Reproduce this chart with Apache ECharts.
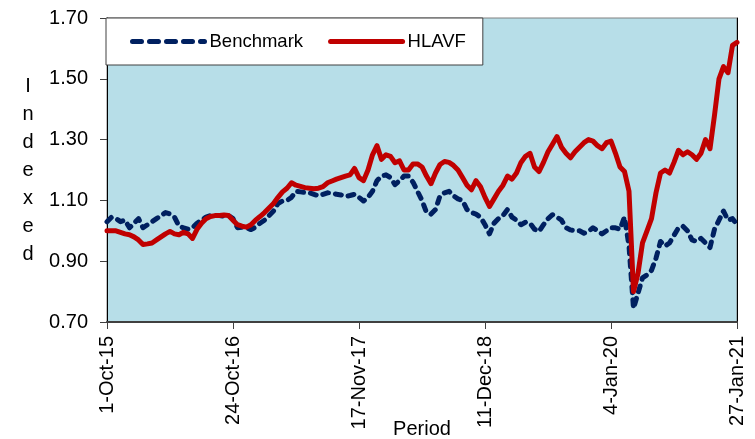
<!DOCTYPE html>
<html>
<head>
<meta charset="utf-8">
<script src="https://cdn.jsdelivr.net/npm/echarts@6/dist/echarts.min.js"></script>
<style>
  html, body { margin: 0; padding: 0; background: #fff; }
  #chart { width: 755px; height: 439px; }
</style>
</head>
<body>
<div id="chart"></div>
<script>
// tick labels for the x axis (one every 28 samples)
const xLabels = ["1-Oct-15", "24-Oct-16", "17-Nov-17", "11-Dec-18", "4-Jan-20", "27-Jan-21"];
const yTicks = [0.7, 0.9, 1.1, 1.3, 1.5, 1.7];

const benchmark = [
  1.03, 1.045, 1.04, 1.03, 1.035, 1.01, 1.025, 1.04, 1.01, 1.02,
  1.03, 1.04, 1.05, 1.06, 1.055, 1.045, 1.015, 1.01, 1.005, 1.01,
  1.025, 1.035, 1.045, 1.05, 1.05, 1.05, 1.048, 1.05, 1.04, 1.01,
  1.012, 1.01, 1.004, 1.012, 1.025, 1.035, 1.05, 1.065, 1.09, 1.098,
  1.10, 1.11, 1.13, 1.128, 1.126, 1.125, 1.12, 1.115, 1.12, 1.125,
  1.124, 1.12, 1.118, 1.113, 1.116, 1.12, 1.11, 1.098, 1.11, 1.13,
  1.165, 1.18, 1.184, 1.175, 1.152, 1.165, 1.18, 1.18, 1.16, 1.13,
  1.10, 1.06, 1.055, 1.07, 1.115, 1.125, 1.13, 1.115, 1.105, 1.10,
  1.07, 1.06, 1.055, 1.045, 1.02, 0.99, 1.025, 1.04, 1.05, 1.07,
  1.045, 1.035, 1.02, 1.028, 1.025, 1.005, 0.998, 1.02, 1.04, 1.053,
  1.045, 1.035, 1.01, 1.003, 1.00, 1.00, 0.992, 0.998, 1.01, 1.00,
  0.99, 1.00, 1.01, 1.01, 1.005, 1.045, 0.95, 0.745, 0.795, 0.845,
  0.855, 0.87, 0.91, 0.965, 0.95, 0.96, 0.985, 1.01, 1.015, 1.00,
  0.97, 0.965, 0.975, 0.96, 0.945, 1.005, 1.035, 1.065, 1.035, 1.04,
  1.02
];

const hlavf = [
  1.00, 1.00, 1.00, 0.995, 0.99, 0.987, 0.98, 0.97, 0.955, 0.957,
  0.96, 0.97, 0.98, 0.99, 0.998, 0.99, 0.987, 0.995, 0.99, 0.975,
  1.005, 1.025, 1.04, 1.047, 1.05, 1.05, 1.052, 1.05, 1.035, 1.02,
  1.015, 1.012, 1.02, 1.035, 1.047, 1.06, 1.075, 1.09, 1.11, 1.128,
  1.14, 1.158, 1.15, 1.146, 1.142, 1.14, 1.138, 1.14, 1.145, 1.158,
  1.164, 1.17, 1.175, 1.18, 1.184, 1.205, 1.175, 1.165, 1.20, 1.25,
  1.28, 1.235, 1.25, 1.245, 1.224, 1.23, 1.20, 1.20, 1.22, 1.22,
  1.21, 1.18, 1.155, 1.19, 1.218, 1.228, 1.225, 1.215, 1.20, 1.175,
  1.15, 1.135, 1.165, 1.145, 1.11, 1.08, 1.105, 1.13, 1.15, 1.18,
  1.17, 1.19, 1.225, 1.245, 1.255, 1.21, 1.195, 1.225, 1.26, 1.285,
  1.31, 1.275, 1.255, 1.24, 1.26, 1.275, 1.29, 1.30, 1.295, 1.28,
  1.27, 1.29, 1.295, 1.255, 1.21, 1.195, 1.13, 0.80, 0.86, 0.96,
  1.00, 1.04, 1.125, 1.19, 1.20, 1.19, 1.225, 1.265, 1.25, 1.26,
  1.25, 1.235, 1.255, 1.30, 1.27, 1.38, 1.50, 1.54, 1.52, 1.61,
  1.62
];

const labelStep = 28;
const font = "Liberation Sans, Arial, sans-serif";
const navy = "#002060";
const red = "#c00000";

const chart = echarts.init(document.getElementById("chart"));
chart.setOption({
  animation: false,
  backgroundColor: "#ffffff",
  grid: {
    left: 107, right: 18, top: 18, bottom: 117,
    outerBoundsMode: "none",
    containLabel: false,
    show: true,
    backgroundColor: "#b7dee8",
    borderColor: "#808080",
    borderWidth: 1,
  },
  legend: {
    left: 106,
    top: 18,
    padding: [14, 17, 14, 24],
    itemWidth: 72,
    itemHeight: 14,
    itemGap: 25,
    backgroundColor: "#ffffff",
    borderColor: "#404040",
    borderWidth: 1,
    itemStyle: { opacity: 0 },
    textStyle: { fontFamily: font, fontSize: 18.5, color: "#000" },
    data: [
      { name: "Benchmark", lineStyle: { width: 5, type: [9, 8], cap: "round", color: navy } },
      { name: "HLAVF", lineStyle: { width: 5, cap: "round", color: red } },
    ],
  },
  xAxis: {
    type: "value",
    min: 0,
    max: (xLabels.length - 1) * labelStep,
    interval: labelStep,
    name: "Period",
    nameLocation: "middle",
    nameGap: 97,
    nameMoveOverlap: false,
    nameTextStyle: { fontFamily: font, fontSize: 20, color: "#000" },
    axisLine: { lineStyle: { color: "#404040", width: 2 } },
    axisTick: { length: 7, lineStyle: { color: "#404040" } },
    axisLabel: {
      rotate: 90,
      margin: 14,
      fontFamily: font,
      fontSize: 20,
      color: "#000",
      formatter: (v) => xLabels[Math.round(v / labelStep)] ?? "",
    },
    splitLine: { show: false },
  },
  yAxis: [
    {
      type: "value",
      min: 0.7,
      max: 1.7,
      name: "I\nn\nd\ne\nx\ne\nd",
      nameLocation: "middle",
      nameRotate: 0,
      nameGap: 79,
      nameMoveOverlap: false,
      nameTextStyle: {
        fontFamily: font, fontSize: 20, color: "#000",
        lineHeight: 28, align: "center", verticalAlign: "middle",
      },
      axisLine: { show: true, lineStyle: { color: "#000", width: 1 } },
      axisTick: { show: true, length: 7, customValues: yTicks, lineStyle: { color: "#404040" } },
      axisLabel: {
        margin: 19,
        fontFamily: font,
        fontSize: 20,
        color: "#000",
        customValues: yTicks,
        formatter: (v) => v.toFixed(2),
      },
      splitLine: { show: false },
    },
    {
      type: "value",
      min: 0.7,
      max: 1.7,
      position: "right",
      axisLine: { show: true, lineStyle: { color: "#000", width: 1 } },
      axisTick: { show: false },
      axisLabel: { show: false },
      splitLine: { show: false },
    },
  ],
  series: [
    {
      name: "Benchmark",
      type: "line",
      symbol: "none",
      data: benchmark.map((v, i) => [i, v]),
      lineStyle: { color: navy, width: 5, type: [6, 7], cap: "round", join: "round" },
      itemStyle: { color: navy },
    },
    {
      name: "HLAVF",
      type: "line",
      symbol: "none",
      data: hlavf.map((v, i) => [i, v]),
      lineStyle: { color: red, width: 5, cap: "round", join: "round" },
      itemStyle: { color: red },
    },
  ],
});
</script>
</body>
</html>
